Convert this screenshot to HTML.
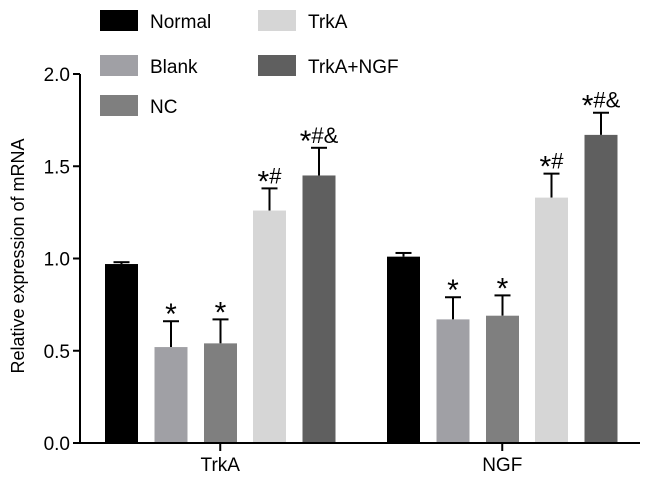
<!DOCTYPE html>
<html><head><meta charset="utf-8"><style>
body{margin:0;background:#fff;width:650px;height:483px;overflow:hidden}
text{font-family:"Liberation Sans",Arial,sans-serif}
</style></head><body>
<svg id="chart" width="650" height="483">
</svg>
<script>
const groups=["TrkA","NGF"];
const seriesNames=["Normal","Blank","NC","TrkA","TrkA+NGF"];
const seriesColors=["#000000","#a0a0a5","#7f7f7f","#d6d6d6","#5f5f5f"];
const trkaValues=[0.97,0.52,0.54,1.26,1.45];
const trkaErrors=[0.01,0.14,0.13,0.12,0.15];
const ngfValues=[1.01,0.67,0.69,1.33,1.67];
const ngfErrors=[0.02,0.12,0.11,0.13,0.12];
const trkaMarks=["","*","*","*#","*#&"];
const ngfMarks=["","*","*","*#","*#&"];
const yTicks=[0,0.5,1.0,1.5,2.0];
const yTickLabels=["0.0","0.5","1.0","1.5","2.0"];

const NS="http://www.w3.org/2000/svg";
const svg=document.getElementById('chart');
function el(t,a,p){const e=document.createElementNS(NS,t);for(const k in a)e.setAttribute(k,a[k]);(p||svg).appendChild(e);return e;}
const y0=443,yTop=74,yMax=2.0;
function y(v){return y0-(y0-yTop)*v/yMax;}
const groupStart=[105,387];
const barStep=[0,49.5,99,148,197.5];
const barW=33;
function x(g,i){return groupStart[g]+barStep[i];}

const ya=el('line',{x1:80,y1:y0,x2:80,y2:yTop,stroke:'#000','stroke-width':2});


yTicks.forEach((v,i)=>{
  const t=el('line',{x1:73,y1:y(v),x2:80,y2:y(v),stroke:'#000','stroke-width':2});
  
  
  const l=el('text',{x:70,y:y(v)+7,'text-anchor':'end','font-size':19});
  l.textContent=yTickLabels[i];
  
  
});
const yt=el('text',{x:0,y:0,'text-anchor':'middle','font-size':18,transform:'translate(24,256) rotate(-90)'});
yt.textContent='Relative expression of mRNA';



const vals=[trkaValues,ngfValues],errs=[trkaErrors,ngfErrors],marks=[trkaMarks,ngfMarks];
groups.forEach((g,gi)=>{
  vals[gi].forEach((v,i)=>{
    const bx=x(gi,i);
    const cx=bx+barW/2;
    const top=y(v+errs[gi][i]);
    const eb=el('line',{x1:cx,y1:y(v),x2:cx,y2:top,stroke:'#000','stroke-width':2});
    
    
    const cap=el('line',{x1:cx-8,y1:top,x2:cx+8,y2:top,stroke:'#000','stroke-width':2});
    
    
    const r=el('rect',{x:bx,y:y(v),width:barW,height:y0-y(v),fill:seriesColors[i]});
    
    
    if(marks[gi][i]){
      const m=el('text',{x:cx,y:top-5,'text-anchor':'middle','font-size':22});
      const s=marks[gi][i];
      const star=el('tspan',{'font-size':30,dy:8},m);
      star.textContent='*';
      if(s.length>1){const rest=el('tspan',{dy:-8},m);rest.textContent=s.slice(1);}
      
      
    }
  });
  const cx=(x(gi,0)+x(gi,4)+barW)/2;
  const tk=el('line',{x1:cx,y1:y0,x2:cx,y2:y0+8,stroke:'#000','stroke-width':2});
  
  
  const xl=el('text',{x:cx,y:y0+28,'text-anchor':'middle','font-size':19});
  xl.textContent=g;
  
  
});
const xa=el('line',{x1:79,y1:y0,x2:640,y2:y0,stroke:'#000','stroke-width':2});



const legPos=[[100,10],[100,55],[100,95],[258,10],[258,55]];
seriesNames.forEach((n,i)=>{
  const [lx,ly]=legPos[i];
  const r=el('rect',{x:lx,y:ly,width:38,height:21,fill:seriesColors[i]});
  
  
  const t=el('text',{x:lx+50,y:ly+18,'font-size':19});
  t.textContent=n;
  
  
});
</script>
</body></html>
